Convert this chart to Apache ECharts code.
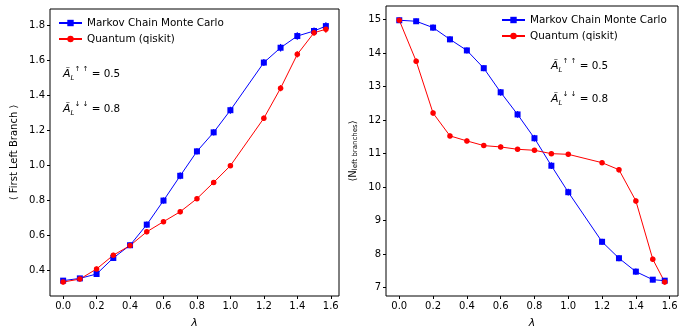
<!DOCTYPE html>
<html>
<head>
<meta charset="utf-8">
<script src="https://cdn.jsdelivr.net/npm/echarts@6/dist/echarts.min.js"></script>
<style>
  html, body { margin: 0; padding: 0; background: #fff; }
  #main { width: 679px; height: 329px; }
</style>
</head>
<body>
<div id="main"></div>
<script>
// lambda values shared by both panels
const lambdas = [0, 0.1, 0.2, 0.3, 0.4, 0.5, 0.6, 0.7, 0.8, 0.9, 1.0, 1.2, 1.3, 1.4, 1.5, 1.5708];

// left panel: <First Left Branch>
const mcmcBranch = [0.339, 0.352, 0.377, 0.469, 0.542, 0.660, 0.798, 0.940, 1.080, 1.189, 1.316, 1.589, 1.674, 1.741, 1.770, 1.798];
const mcmcBranchErr = [0.008, 0.008, 0.008, 0.010, 0.010, 0.012, 0.012, 0.014, 0.012, 0.012, 0.014, 0.014, 0.016, 0.016, 0.014, 0.016];
const qiskitBranch = [0.331, 0.348, 0.406, 0.485, 0.540, 0.619, 0.677, 0.734, 0.809, 0.902, 0.998, 1.270, 1.442, 1.636, 1.760, 1.780];
const qiskitBranchErr = [0.008, 0.008, 0.008, 0.008, 0.008, 0.008, 0.008, 0.008, 0.008, 0.008, 0.008, 0.010, 0.012, 0.012, 0.012, 0.014];

// right panel: <N_left branches>
const mcmcCount = [14.98, 14.95, 14.76, 14.41, 14.08, 13.55, 12.83, 12.17, 11.46, 10.64, 9.85, 8.37, 7.88, 7.48, 7.24, 7.21];
const mcmcCountErr = [0.05, 0.05, 0.06, 0.06, 0.06, 0.06, 0.07, 0.07, 0.07, 0.07, 0.07, 0.06, 0.06, 0.06, 0.05, 0.05];
const qiskitCount = [14.98, 13.76, 12.21, 11.53, 11.38, 11.24, 11.20, 11.13, 11.10, 11.00, 10.98, 10.73, 10.52, 9.59, 7.85, 7.17];
const qiskitCountErr = [0.04, 0.05, 0.05, 0.04, 0.04, 0.04, 0.04, 0.04, 0.04, 0.04, 0.04, 0.04, 0.05, 0.05, 0.05, 0.05];

// tick labels
const xTicks = [0, 0.2, 0.4, 0.6, 0.8, 1.0, 1.2, 1.4, 1.6];
const branchTicks = [0.4, 0.6, 0.8, 1.0, 1.2, 1.4, 1.6, 1.8];
const countTicks = [7, 8, 9, 10, 11, 12, 13, 14, 15];

const FONT = "DejaVu Sans";
const BLUE = "#0000ff";
const RED = "#ff0000";
const MCMC = "Markov Chain Monte Carlo";
const QISKIT = "Quantum (qiskit)";

const pairs = (ys) => lambdas.map((x, i) => [x, ys[i]]);
const errPairs = (ys, es) => lambdas.map((x, i) => [x, ys[i] - es[i], ys[i] + es[i]]);

function xAxisFor(gridIndex) {
  return {
    type: "value", gridIndex,
    min: -0.0785, max: 1.6493,
    name: "λ", nameLocation: "middle", nameGap: 22,
    nameTextStyle: { fontFamily: FONT, fontSize: 11, fontStyle: "italic", color: "#000" },
    axisLine: { show: false, onZero: false },
    axisTick: { show: true, length: 3, customValues: xTicks, lineStyle: { color: "#000" } },
    axisLabel: { customValues: xTicks, margin: 5, fontFamily: FONT, fontSize: 10, color: "#000",
      formatter: (v) => v.toFixed(1) },
    splitLine: { show: false },
  };
}

function lineSeries(name, data, gi, color, symbol) {
  return {
    name, type: "line", xAxisIndex: gi, yAxisIndex: gi,
    data, symbol, symbolSize: symbol === "rect" ? 6 : 5.5,
    itemStyle: { color }, lineStyle: { color, width: 1 },
    emphasis: { disabled: true },
  };
}

function errSeries(name, data, gi, color) {
  return {
    name, type: "custom", xAxisIndex: gi, yAxisIndex: gi,
    data, silent: true,
    renderItem: (params, api) => {
      const lo = api.coord([api.value(0), api.value(1)]);
      const hi = api.coord([api.value(0), api.value(2)]);
      return {
        type: "line",
        shape: { x1: lo[0], y1: lo[1] + 1, x2: hi[0], y2: hi[1] - 1 },
        style: { stroke: color, lineWidth: 1.2 },
      };
    },
  };
}

function note(x, y, arrows, val) {
  return {
    type: "text", left: x, top: y,
    style: {
      text: "{a|Ã}{s|L}{u|" + arrows + "}{t| = " + val + "}",
      rich: {
        a: { fontFamily: FONT, fontStyle: "italic", fontSize: 11, fill: "#000", lineHeight: 16, verticalAlign: "middle" },
        s: { fontFamily: FONT, fontStyle: "italic", fontSize: 7, fill: "#000", verticalAlign: "bottom", lineHeight: 16 },
        u: { fontFamily: FONT, fontSize: 7, fill: "#000", verticalAlign: "top", lineHeight: 16 },
        t: { fontFamily: FONT, fontSize: 10.4, fill: "#000", lineHeight: 16, verticalAlign: "middle" },
      },
    },
  };
}

function yAxisFor(gridIndex, min, max, ticks, name, gap, fmt, rich) {
  return {
    type: "value", gridIndex, min, max,
    name, nameLocation: "middle", nameGap: gap,
    nameTextStyle: { fontFamily: FONT, fontSize: 10, color: "#000", rich },
    axisLine: { show: false, onZero: false },
    axisTick: { show: true, length: 3, customValues: ticks, lineStyle: { color: "#000" } },
    axisLabel: { customValues: ticks, margin: 5, fontFamily: FONT, fontSize: 10, color: "#000", formatter: fmt },
    splitLine: { show: false },
  };
}

const legendStyle = {
  data: [MCMC, QISKIT], orient: "vertical", padding: 0,
  itemWidth: 23, itemHeight: 8, itemGap: 6,
  textStyle: { fontFamily: FONT, fontSize: 10.4, color: "#000" },
};

const gridStyle = {
  show: true, borderColor: "#000", borderWidth: 1,
  containLabel: false, outerBoundsMode: "none",
};

const option = {
  animation: false,
  backgroundColor: "#fff",
  textStyle: { fontFamily: FONT },
  grid: [
    Object.assign({ left: 50, top: 9, width: 289, height: 287 }, gridStyle),
    Object.assign({ left: 386, top: 6, width: 292, height: 290 }, gridStyle),
  ],
  legend: [
    Object.assign({ left: 58, top: 18 }, legendStyle),
    Object.assign({ left: 501, top: 15 }, legendStyle),
  ],
  xAxis: [xAxisFor(0), xAxisFor(1)],
  yAxis: [
    yAxisFor(0, 0.251, 1.896, branchTicks, "⟨ First Left Branch ⟩", 31, (v) => v.toFixed(1)),
    yAxisFor(1, 6.753, 15.405, countTicks, "⟨N{s|left branches}⟩", 27, (v) => String(v),
      { s: { fontFamily: FONT, fontSize: 7, color: "#000", verticalAlign: "bottom", padding: [4, 0, 0, 0] } }),
  ],
  graphic: [
    note(63, 66, "↑ ↑", "0.5"),
    note(63, 101, "↓ ↓", "0.8"),
    note(551, 58, "↑ ↑", "0.5"),
    note(551, 91, "↓ ↓", "0.8"),
  ],
  series: [
    errSeries("mcmc-err-0", errPairs(mcmcBranch, mcmcBranchErr), 0, BLUE),
    lineSeries(MCMC, pairs(mcmcBranch), 0, BLUE, "rect"),
    errSeries("qiskit-err-0", errPairs(qiskitBranch, qiskitBranchErr), 0, RED),
    lineSeries(QISKIT, pairs(qiskitBranch), 0, RED, "circle"),
    errSeries("mcmc-err-1", errPairs(mcmcCount, mcmcCountErr), 1, BLUE),
    lineSeries(MCMC, pairs(mcmcCount), 1, BLUE, "rect"),
    errSeries("qiskit-err-1", errPairs(qiskitCount, qiskitCountErr), 1, RED),
    lineSeries(QISKIT, pairs(qiskitCount), 1, RED, "circle"),
  ],
};

const chart = echarts.init(document.getElementById("main"), null, { renderer: "canvas" });
chart.setOption(option);
</script>
</body>
</html>
